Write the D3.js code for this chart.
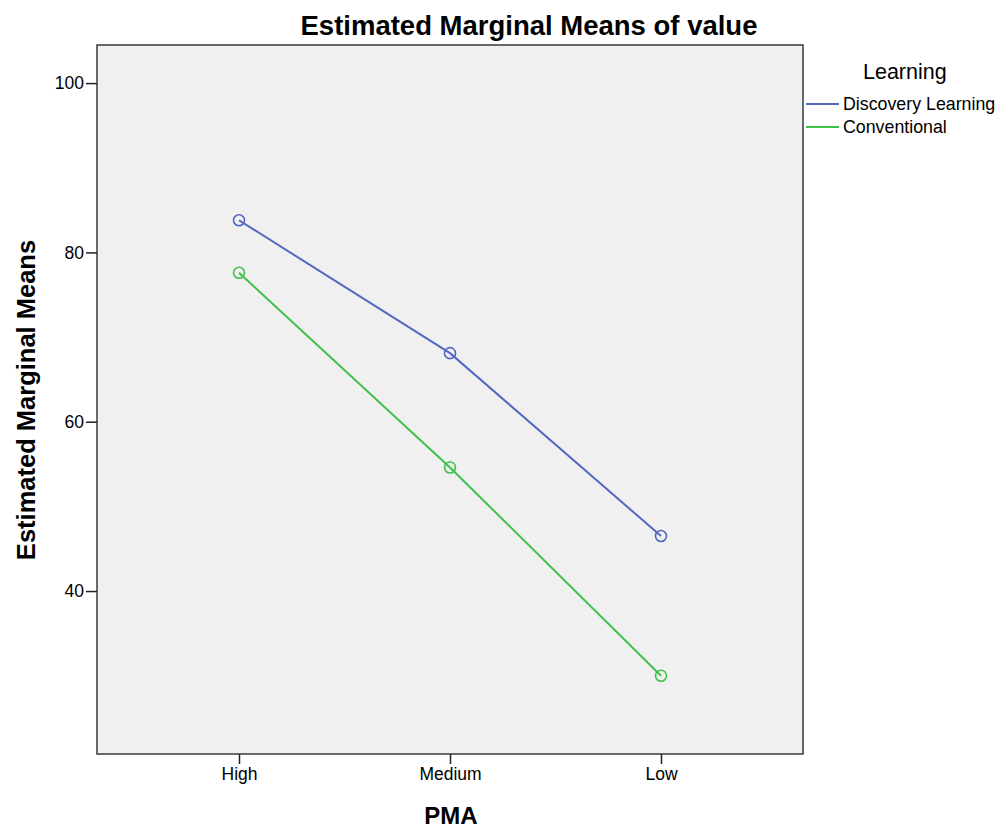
<!DOCTYPE html>
<html>
<head>
<meta charset="utf-8" />
<title>Estimated Marginal Means of value</title>
<script src="https://d3js.org/d3.v7.min.js"></script>
<style>
  body { margin: 0; background: #fff; }
  text { font-family: "Liberation Sans", Arial, sans-serif; fill: #000; }
</style>
</head>
<body>
<script>
var categories = ["High", "Medium", "Low"];
var seriesNames = ["Discovery Learning", "Conventional"];
var discovery = [83.8, 68.1, 46.5];
var conventional = [77.6, 54.6, 30.0];
var yTicks = [40, 60, 80, 100];
var colors = ["#5468bf", "#3fc24c"];

var svg = d3.select("body").append("svg")
    .attr("width", 1008)
    .attr("height", 829);

var plot = { left: 97, top: 45, right: 803, bottom: 754 };

var x = d3.scalePoint()
    .domain(categories)
    .range([239, 661]);

var y = d3.scaleLinear()
    .domain([20.75, 104.5])
    .range([plot.bottom, plot.top]);

// plot background
svg.append("rect")
    .attr("x", plot.left)
    .attr("y", plot.top)
    .attr("width", plot.right - plot.left)
    .attr("height", plot.bottom - plot.top)
    .attr("fill", "#f0f0f0")
    .attr("stroke", "#3a3a3a")
    .attr("stroke-width", 1.5);

// axes
var yAxis = d3.axisLeft(y).tickValues(yTicks).tickSize(11).tickSizeOuter(0).tickPadding(2);
var gy = svg.append("g").attr("transform", "translate(" + plot.left + ",0)").call(yAxis);
gy.select(".domain").remove();
gy.selectAll("text").style("font-size", "17.5px").attr("fill", "#222");
gy.selectAll("line").attr("stroke", "#222").attr("stroke-width", 1.5);

var xAxis = d3.axisBottom(x).tickSize(10).tickSizeOuter(0).tickPadding(4);
var gx = svg.append("g").attr("transform", "translate(0," + plot.bottom + ")").call(xAxis);
gx.select(".domain").remove();
gx.selectAll("text").style("font-size", "17.5px").attr("fill", "#222");
gx.selectAll("line").attr("stroke", "#222").attr("stroke-width", 1.5);

// series
var series = [discovery, conventional];
var line = d3.line()
    .x(function(d, i){ return x(categories[i]); })
    .y(function(d){ return y(d); });

series.forEach(function(vals, s) {
    svg.append("path")
        .datum(vals)
        .attr("d", line)
        .attr("fill", "none")
        .attr("stroke", colors[s])
        .attr("stroke-width", 2);

    svg.selectAll(".pt" + s)
        .data(vals)
        .enter()
        .append("circle")
        .attr("class", "pt" + s)
        .attr("cx", function(d, i){ return x(categories[i]); })
        .attr("cy", function(d){ return y(d); })
        .attr("r", 5.5)
        .attr("fill", "none")
        .attr("stroke", colors[s])
        .attr("stroke-width", 1.6);
});

// titles
svg.append("text")
    .attr("x", 529)
    .attr("y", 35)
    .attr("text-anchor", "middle")
    .style("font-size", "27.5px")
    .style("font-weight", "bold")
    .text("Estimated Marginal Means of value");

svg.append("text")
    .attr("x", 451)
    .attr("y", 824)
    .attr("text-anchor", "middle")
    .style("font-size", "24px")
    .style("font-weight", "bold")
    .text("PMA");

svg.append("text")
    .attr("transform", "translate(35,400) rotate(-90)")
    .attr("text-anchor", "middle")
    .style("font-size", "25.5px")
    .style("font-weight", "bold")
    .text("Estimated Marginal Means");

// legend
svg.append("text")
    .attr("x", 863)
    .attr("y", 79)
    .style("font-size", "21.5px")
    .attr("fill", "#222")
    .text("Learning");

var leg = svg.selectAll(".leg")
    .data(seriesNames)
    .enter()
    .append("g")
    .attr("class", "leg")
    .attr("transform", function(d, i){ return "translate(806," + (104 + i * 23) + ")"; });

leg.append("line")
    .attr("x1", 0).attr("x2", 33)
    .attr("stroke", function(d, i){ return colors[i]; })
    .attr("stroke-width", 2);

leg.append("text")
    .attr("x", 37)
    .attr("y", 6)
    .style("font-size", "17.8px")
    .attr("fill", "#222")
    .text(function(d){ return d; });
</script>
</body>
</html>
